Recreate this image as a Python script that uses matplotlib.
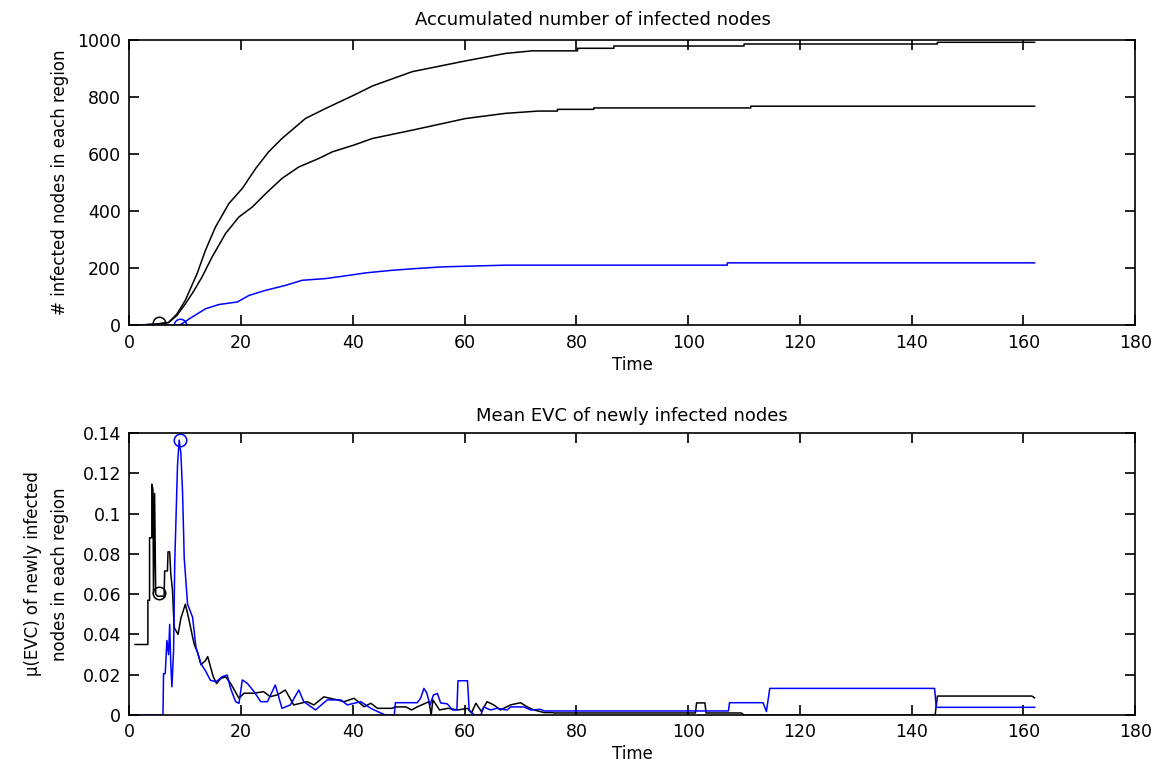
import numpy as np
from matplotlib import pyplot as plt

# accumulated infected nodes (top panel)
t_all = [1, 5, 7, 8.5, 10, 12.1, 13.6, 15.4, 17.8, 20.2, 22.6, 24.9, 27.3, 31.5, 35.1,
         40.2, 43.5, 50.6, 60.2, 67.3, 72.1, 80.2, 80.2, 86.7, 86.7, 110, 110,
         144.6, 144.6, 162]
n_all = [0, 5, 10, 40, 88, 181, 263, 345, 427, 480, 550, 608, 655, 725, 760,
         807, 839, 889, 927, 953, 962, 962, 971, 971, 979, 979, 986,
         986, 992, 992]

t_mid = [1, 5, 7, 8.5, 10, 11.5, 13, 14.8, 17.2, 19.6, 22, 24.4, 27.3, 30.3, 33.9,
         36.3, 40.2, 43.5, 50.6, 60.2, 67.3, 73.2, 76.6, 76.6, 83.1, 83.1,
         111.2, 111.2, 162]
n_mid = [0, 5, 10, 35, 75, 120, 170, 240, 322, 380, 415, 462, 515, 555, 585,
         608, 632, 655, 684, 725, 743, 751, 751, 757, 757, 762,
         762, 768, 768]

t_blue = [1, 8, 9.1, 11.2, 13.6, 16, 19.3, 21.4, 24.4, 27.9, 30.9, 35.1, 38.1,
          42.3, 47, 51.2, 56, 67.3, 107, 107, 162]
n_blue = [0, 0, 2, 29, 58, 73, 82, 105, 123, 140, 158, 164, 172,
          184, 193, 199, 205, 211, 211, 219, 219]

# mean EVC of newly infected nodes (bottom panel)
te_black = [1.0, 3.3, 3.3, 3.6, 3.6, 4.0, 4.0, 4.2, 4.3, 4.5, 4.7, 5.0, 6.2, 6.3,
            6.8, 6.9, 7.2, 7.4, 7.7, 8.0, 8.7, 9.2, 10.0, 10.6, 11.2, 11.6, 12.2,
            12.8, 13.6, 14.0, 15.0, 15.6, 16.3, 17.2, 18.1, 19.6, 20.5, 22.3, 24.0,
            25.2, 26.5, 27.9, 29.4, 31.8, 33.0, 34.8, 37.2, 38.4, 40.2, 42.0, 43.2,
            44.4, 47.0, 47.6, 49.5, 50.5, 51.5, 53.6, 54.0, 54.3, 55.5, 57.0, 58.8,
            60.5, 61.2, 62.0, 63.0, 64.0, 65.2, 66.4, 68.2, 70.0, 71.2, 72.4, 74.2,
            75.7, 76.0, 101.3, 101.5, 103.0, 103.2, 109.5, 110.0, 144.2, 144.6,
            161.5, 162.0]
e_black = [0.035, 0.035, 0.057, 0.057, 0.088, 0.088, 0.1146, 0.112, 0.06, 0.11, 0.06,
           0.059, 0.059, 0.0715, 0.0715, 0.081, 0.081, 0.07, 0.062, 0.0435, 0.040,
           0.048, 0.055, 0.048, 0.040, 0.035, 0.031, 0.025, 0.027, 0.029, 0.019,
           0.0156, 0.018, 0.019, 0.0157, 0.0083, 0.0108, 0.0108, 0.0116, 0.0091,
           0.010, 0.0124, 0.005, 0.0066, 0.005, 0.009, 0.0075, 0.0066, 0.0083,
           0.0041, 0.0058, 0.0033, 0.0033, 0.004, 0.004, 0.0025, 0.004, 0.0066,
           0.0, 0.0075, 0.0025, 0.0033, 0.0025, 0.0033, 0.001, 0.0058, 0.0017,
           0.0066, 0.005, 0.0025, 0.005, 0.0061, 0.004, 0.0025, 0.0012, 0.0012,
           0.001, 0.001, 0.006, 0.006, 0.001, 0.001, 0.0, 0.0, 0.0094, 0.0094,
           0.0085]

te_blue = [1.0, 6.0, 6.1, 6.4, 6.7, 7.0, 7.2, 7.4, 7.6, 7.9, 8.1, 8.6, 8.9, 9.2,
           9.5, 9.8, 10.4, 11.3, 11.9, 12.8, 13.6, 14.5, 15.5, 16.6, 17.5, 18.1,
           19.0, 19.6, 20.2, 21.1, 22.3, 23.5, 24.7, 26.1, 26.7, 27.3, 28.8, 30.3,
           31.2, 33.3, 35.4, 37.8, 39.0, 41.4, 43.2, 44.4, 45.8, 47.4, 47.6, 51.5,
           52.1, 52.7, 53.2, 53.8, 54.4, 55.1, 55.7, 56.9, 57.8, 58.6, 58.8, 60.5,
           60.8, 61.7, 62.9, 63.4, 64.6, 65.8, 67.6, 68.2, 70.6, 71.8, 73.6, 74.2,
           107.2, 107.4, 113.4, 114.0, 114.6, 144.1, 144.4, 162.0]
e_blue = [0.0, 0.0, 0.0205, 0.0205, 0.037, 0.030, 0.045, 0.025, 0.014, 0.032, 0.075,
          0.124, 0.1365, 0.13, 0.111, 0.078, 0.055, 0.0485, 0.0336, 0.0254, 0.022,
          0.0172, 0.0165, 0.019, 0.0198, 0.0132, 0.0066, 0.0058, 0.0174, 0.0157,
          0.0116, 0.0066, 0.0066, 0.0149, 0.0091, 0.0033, 0.005, 0.0124, 0.0066,
          0.0025, 0.0075, 0.0075, 0.005, 0.0066, 0.0033, 0.0017, 0.0, 0.0, 0.0061,
          0.0061, 0.0083, 0.0132, 0.011, 0.005, 0.0099, 0.0107, 0.006, 0.0055,
          0.0025, 0.0025, 0.017, 0.017, 0.0025, 0.0, 0.0, 0.004, 0.0025, 0.0033,
          0.0025, 0.004, 0.004, 0.0025, 0.0028, 0.002, 0.002, 0.0061, 0.0061,
          0.0017, 0.0132, 0.0132, 0.0038, 0.0038]

# circled points
mark_black = (5.2, 8, 0.0605)
mark_blue = (9.0, 0, 0.1365)

x_ticks = np.arange(0, 181, 20)
evc_ticks = [0, 0.02, 0.04, 0.06, 0.08, 0.1, 0.12, 0.14]
evc_labels = ['0', '0.02', '0.04', '0.06', '0.08', '0.1', '0.12', '0.14']

plt.rcParams['font.family'] = ['DejaVu Sans']
plt.rcParams['font.size'] = 12

fig = plt.figure(figsize=(11.6, 7.62), dpi=100)
ax1 = fig.add_axes([0.1116, 0.573, 0.867, 0.3745])
ax2 = fig.add_axes([0.1116, 0.0617, 0.867, 0.370])

blue = '#0000ff'
lw = 1.1

ax1.plot(t_all, n_all, color='black', lw=lw)
ax1.plot(t_mid, n_mid, color='black', lw=lw)
ax1.plot(t_blue, n_blue, color=blue, lw=lw)
ax1.plot(mark_black[0], mark_black[1], 'o', mec='black', mfc='none', ms=9, mew=1.1)
ax1.plot(mark_blue[0], mark_blue[1], 'o', mec=blue, mfc='none', ms=9, mew=1.1)
ax1.set_xlim(0, 180)
ax1.set_ylim(0, 1000)
ax1.set_xticks(x_ticks)
ax1.set_yticks(np.arange(0, 1001, 200))
ax1.set_title('Accumulated number of infected nodes', fontsize=13, pad=11, x=0.461)
ax1.set_xlabel('Time', labelpad=3)
ax1.set_ylabel('# infected nodes in each region', labelpad=6)

ax2.plot(te_black, e_black, color='black', lw=lw)
ax2.plot(te_blue, e_blue, color=blue, lw=lw)
ax2.plot(mark_black[0], mark_black[2], 'o', mec='black', mfc='none', ms=9, mew=1.1)
ax2.plot(mark_blue[0], mark_blue[2], 'o', mec=blue, mfc='none', ms=9, mew=1.1)
ax2.set_xlim(0, 180)
ax2.set_ylim(0, 0.14)
ax2.set_xticks(x_ticks)
ax2.set_yticks(evc_ticks)
ax2.set_yticklabels(evc_labels)
ax2.set_title('Mean EVC of newly infected nodes', fontsize=13, pad=9)
ax2.set_xlabel('Time', labelpad=3)
ax2.set_ylabel('\u03bc(EVC) of newly infected\nnodes in each region', labelpad=10,
               linespacing=1.6)

for ax in (ax1, ax2):
    ax.tick_params(direction='in', length=7, width=1.2, top=True, right=True,
                   labelsize=12.5, pad=6)
    for s in ax.spines.values():
        s.set_linewidth(1.2)

fig.savefig('out.png', dpi=100)
